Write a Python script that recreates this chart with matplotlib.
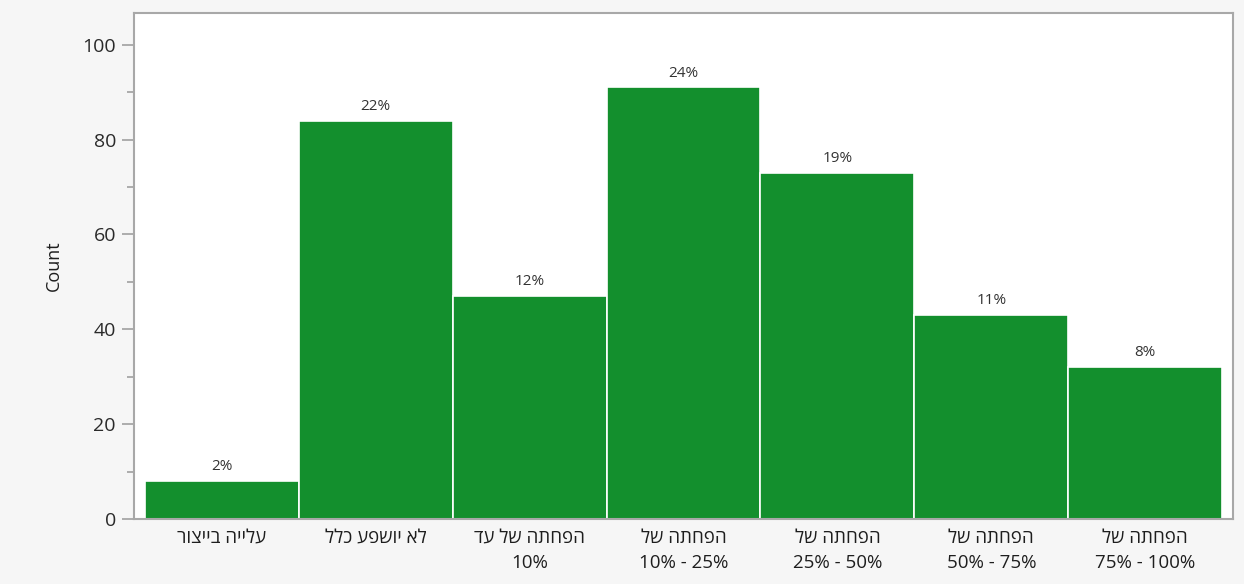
import matplotlib.pyplot as plt
from matplotlib.ticker import MultipleLocator

plt.rcParams["font.family"] = ["Open Sans", "DejaVu Sans"]

# Hebrew labels in logical order (one string per line)
categories = [
    ["עלייה בייצור"],
    ["לא יושפע כלל"],
    ["הפחתה של עד", "10%"],
    ["הפחתה של", "10% - 25%"],
    ["הפחתה של", "25% - 50%"],
    ["הפחתה של", "50% - 75%"],
    ["הפחתה של", "75% - 100%"],
]
counts = [8, 84, 47, 91, 73, 43, 32]
y_ticks = [0, 20, 40, 60, 80, 100]


def visual(line):
    # matplotlib has no bidi support, so flip Hebrew lines into display order
    if any("\u0590" <= ch <= "\u05ff" for ch in line):
        return line[::-1]
    return line


tick_labels = ["\n".join(visual(l) for l in lines) for lines in categories]
total = sum(counts)

fig = plt.figure(figsize=(12.44, 5.84), dpi=100, facecolor="#f6f6f6")
ax = fig.add_axes([0.1077, 0.1113, 0.8835, 0.8664])
ax.set_facecolor("white")

x = list(range(len(counts)))
ax.bar(x, counts, width=1.0, color="#138f2d", edgecolor="white", linewidth=1.2)

for xi, c in zip(x, counts):
    ax.annotate(f"{round(100 * c / total)}%", (xi, c), xytext=(0, 5),
                textcoords="offset points", ha="center", va="bottom",
                fontsize=11, color="#333333")

ax.set_xlim(-0.571, len(counts) - 0.429)
ax.set_ylim(0, 106.7)
ax.set_yticks(y_ticks)
ax.yaxis.set_minor_locator(MultipleLocator(10))
ax.set_xticks(x)
ax.set_xticklabels(tick_labels, fontsize=13.5, color="#1e1e1e", linespacing=1.55)
ax.tick_params(axis="x", length=0, pad=7)
ax.tick_params(axis="y", which="major", length=9, width=1.2, color="#a0a0a0",
               labelsize=14, labelcolor="#2a2a2a", pad=4)
ax.tick_params(axis="y", which="minor", length=5, width=1.2, color="#a0a0a0")
ax.set_ylabel("Count", fontsize=13, color="#1e1e1e", labelpad=14)

for side in ["left", "bottom", "top", "right"]:
    ax.spines[side].set_color("#a8a8a8")
    ax.spines[side].set_linewidth(1.5)

fig.savefig("out.png", dpi=100, facecolor=fig.get_facecolor())
